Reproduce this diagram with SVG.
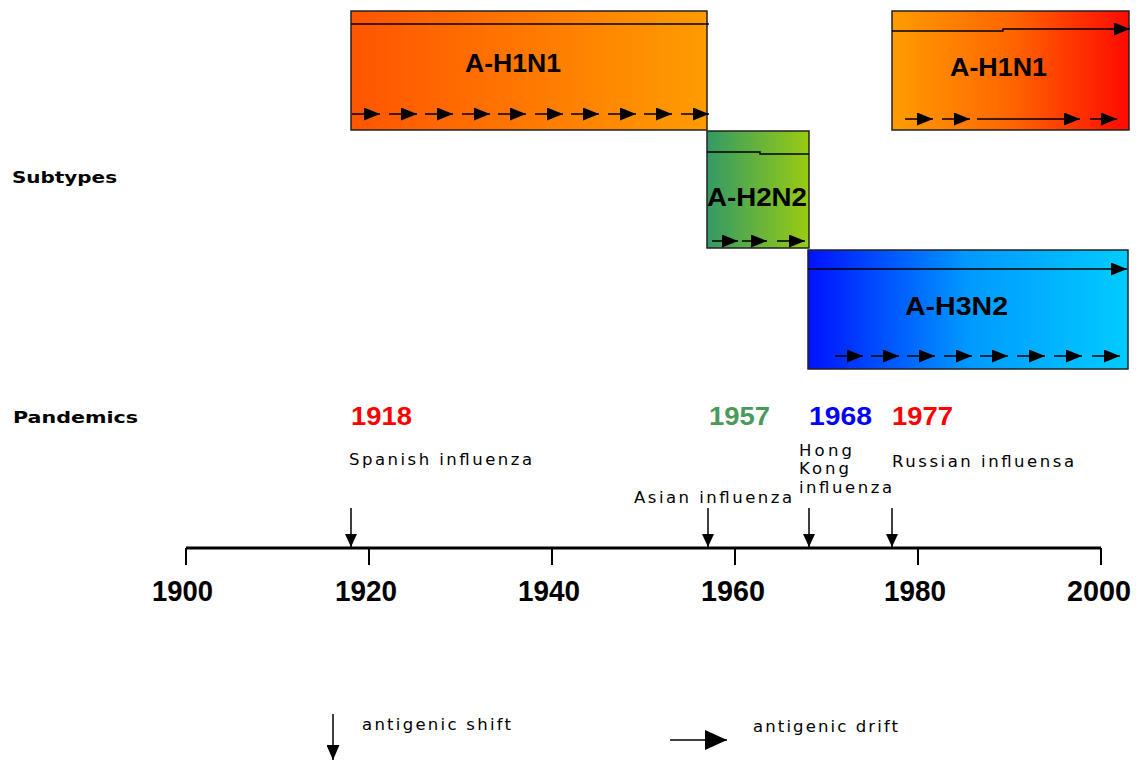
<svg xmlns="http://www.w3.org/2000/svg" width="1141" height="763" viewBox="0 0 1141 763">
<style>
.box{stroke:#222;stroke-width:1.5}
.ln{stroke:#000;stroke-width:1.5;fill:none}
.dr{stroke:#000;stroke-width:1.5;fill:none;marker-end:url(#head)}
.sub{font-family:"Liberation Sans",Arial,sans-serif;font-weight:bold;font-size:25px;fill:#000}
.hd{font-family:"DejaVu Sans",Verdana,sans-serif;font-weight:bold;font-size:16px;fill:#000}
.yr{font-family:"Liberation Sans",Arial,sans-serif;font-weight:bold;font-size:25px}
.ax{font-family:"Liberation Sans",Arial,sans-serif;font-weight:bold;font-size:29px;fill:#000}
.sm{font-family:"DejaVu Sans",Verdana,sans-serif;font-size:16.5px;fill:#000}
.axis{stroke:#000;stroke-width:3;fill:none}
.tick{stroke:#000;stroke-width:2}
.shift{stroke:#000;stroke-width:1.5;marker-end:url(#down)}
</style>
<defs>
<linearGradient id="g1" x1="0" x2="1" y1="0" y2="0"><stop offset="0" stop-color="#ff5500"/><stop offset="1" stop-color="#ff9c00"/></linearGradient>
<linearGradient id="g2" x1="0" x2="1" y1="0" y2="0"><stop offset="0" stop-color="#ff9c00"/><stop offset="0.5" stop-color="#ff6600"/><stop offset="1" stop-color="#ff0a00"/></linearGradient>
<linearGradient id="g3" x1="0" x2="1" y1="0" y2="0"><stop offset="0" stop-color="#339966"/><stop offset="1" stop-color="#99cc11"/></linearGradient>
<linearGradient id="g4" x1="0" x2="1" y1="0" y2="0"><stop offset="0" stop-color="#0011ff"/><stop offset="0.5" stop-color="#0099ff"/><stop offset="1" stop-color="#00ccff"/></linearGradient>
<marker id="head" markerUnits="userSpaceOnUse" viewBox="0 0 16 13" markerWidth="16" markerHeight="13" refX="16" refY="6.5" orient="auto"><path d="M0,0 L16,6.5 L0,13 Z" fill="#000"/></marker>
<marker id="down" markerUnits="userSpaceOnUse" viewBox="0 0 13 12" markerWidth="13" markerHeight="12" refX="13" refY="6" orient="auto"><path d="M0,0 L13,6 L0,12 Z" fill="#000"/></marker>
<marker id="bigdown" markerUnits="userSpaceOnUse" viewBox="0 0 15 13" markerWidth="15" markerHeight="13" refX="15" refY="6.5" orient="auto"><path d="M0,0 L15,6.5 L0,13 Z" fill="#000"/></marker>
<marker id="bigright" markerUnits="userSpaceOnUse" viewBox="0 0 22 20" markerWidth="22" markerHeight="20" refX="22" refY="10" orient="auto"><path d="M0,0 L22,10 L0,20 Z" fill="#000"/></marker>
</defs>
<rect width="1141" height="763" fill="#fff"/>

<text class="hd" x="12" y="183" textLength="105" lengthAdjust="spacingAndGlyphs">Subtypes</text>
<text class="hd" x="13" y="423" textLength="125" lengthAdjust="spacingAndGlyphs">Pandemics</text>

<g id="h1n1-early">
<rect class="box" x="351" y="11" width="356" height="119" fill="url(#g1)"/>
<line class="ln" x1="351" y1="24" x2="709" y2="24"/>
<text class="sub" x="465" y="72" textLength="96" lengthAdjust="spacingAndGlyphs">A-H1N1</text>
<g class="arrows">
<line class="dr" x1="352" y1="114" x2="380" y2="114"/>
<line class="dr" x1="389" y1="114" x2="417" y2="114"/>
<line class="dr" x1="425" y1="114" x2="453" y2="114"/>
<line class="dr" x1="462" y1="114" x2="490" y2="114"/>
<line class="dr" x1="498" y1="114" x2="526" y2="114"/>
<line class="dr" x1="535" y1="114" x2="563" y2="114"/>
<line class="dr" x1="571" y1="114" x2="599" y2="114"/>
<line class="dr" x1="608" y1="114" x2="636" y2="114"/>
<line class="dr" x1="644" y1="114" x2="672" y2="114"/>
<line class="dr" x1="681" y1="114" x2="709" y2="114"/>
</g>
</g>

<g id="h1n1-late">
<rect class="box" x="892" y="11" width="237" height="119" fill="url(#g2)"/>
<polyline class="ln" points="892,31 1003,31 1003,29 1116,29"/>
<line class="dr" x1="1110" y1="29" x2="1130" y2="29"/>
<text class="sub" x="950" y="76" textLength="97" lengthAdjust="spacingAndGlyphs">A-H1N1</text>
<line class="dr" x1="905" y1="119" x2="933" y2="119"/>
<line class="dr" x1="942" y1="119" x2="970" y2="119"/>
<line class="dr" x1="977" y1="119" x2="1080" y2="119"/>
<line class="dr" x1="1090" y1="119" x2="1117" y2="119"/>
</g>

<g id="h2n2">
<rect class="box" x="707" y="131" width="102" height="117" fill="url(#g3)"/>
<polyline class="ln" points="707,152 760,152 760,154 809,154"/>
<text class="sub" x="707" y="206" textLength="100" lengthAdjust="spacingAndGlyphs">A-H2N2</text>
<line class="dr" x1="712" y1="241" x2="738" y2="241"/>
<line class="dr" x1="742" y1="241" x2="767" y2="241"/>
<line class="dr" x1="777" y1="241" x2="805" y2="241"/>
</g>

<g id="h3n2">
<rect class="box" x="808" y="250" width="320" height="119" fill="url(#g4)"/>
<line class="dr" x1="808" y1="269" x2="1127" y2="269"/>
<text class="sub" x="905" y="315" textLength="103" lengthAdjust="spacingAndGlyphs">A-H3N2</text>
<line class="dr" x1="835" y1="356" x2="863" y2="356"/>
<line class="dr" x1="871" y1="356" x2="899" y2="356"/>
<line class="dr" x1="907" y1="356" x2="935" y2="356"/>
<line class="dr" x1="944" y1="356" x2="972" y2="356"/>
<line class="dr" x1="980" y1="356" x2="1008" y2="356"/>
<line class="dr" x1="1017" y1="356" x2="1045" y2="356"/>
<line class="dr" x1="1054" y1="356" x2="1082" y2="356"/>
<line class="dr" x1="1092" y1="356" x2="1120" y2="356"/>
</g>

<g id="pandemic-1918">
<text class="yr" x="351" y="425" fill="#ff0000" textLength="61" lengthAdjust="spacingAndGlyphs">1918</text>
<text class="sm" x="349" y="465" textLength="183" lengthAdjust="spacing">Spanish influenza</text>
</g>
<g id="pandemic-1957">
<text class="yr" x="709" y="425" fill="#4a9a5a" textLength="61" lengthAdjust="spacingAndGlyphs">1957</text>
<text class="sm" x="634" y="503" textLength="158" lengthAdjust="spacing">Asian influenza</text>
</g>
<g id="pandemic-1968">
<text class="yr" x="809" y="425" fill="#0000ff" textLength="63" lengthAdjust="spacingAndGlyphs">1968</text>
<text class="sm" x="799" y="456" textLength="53" lengthAdjust="spacing">Hong</text>
<text class="sm" x="799" y="474" textLength="50" lengthAdjust="spacing">Kong</text>
<text class="sm" x="799" y="493" textLength="93" lengthAdjust="spacing">influenza</text>
</g>
<g id="pandemic-1977">
<text class="yr" x="892" y="425" fill="#ff0000" textLength="61" lengthAdjust="spacingAndGlyphs">1977</text>
<text class="sm" x="892" y="467" textLength="182" lengthAdjust="spacing">Russian influensa</text>
</g>

<g id="timeline">
<line class="axis" x1="186" y1="548" x2="1101" y2="548"/>
<line class="tick" x1="186" y1="548" x2="186" y2="565"/>
<line class="tick" x1="369" y1="548" x2="369" y2="565"/>
<line class="tick" x1="552" y1="548" x2="552" y2="565"/>
<line class="tick" x1="735" y1="548" x2="735" y2="565"/>
<line class="tick" x1="918" y1="548" x2="918" y2="565"/>
<line class="tick" x1="1101" y1="548" x2="1101" y2="565"/>
<text class="ax" x="152" y="601" textLength="61" lengthAdjust="spacingAndGlyphs">1900</text>
<text class="ax" x="335" y="601" textLength="62" lengthAdjust="spacingAndGlyphs">1920</text>
<text class="ax" x="518" y="601" textLength="62" lengthAdjust="spacingAndGlyphs">1940</text>
<text class="ax" x="701" y="601" textLength="64" lengthAdjust="spacingAndGlyphs">1960</text>
<text class="ax" x="884" y="601" textLength="62" lengthAdjust="spacingAndGlyphs">1980</text>
<text class="ax" x="1067" y="601" textLength="64" lengthAdjust="spacingAndGlyphs">2000</text>
</g>

<g id="connectors">
<line class="shift" x1="351" y1="508" x2="351" y2="547"/>
<line class="shift" x1="708" y1="508" x2="708" y2="547"/>
<line class="shift" x1="809" y1="508" x2="809" y2="547"/>
<line class="shift" x1="892" y1="508" x2="892" y2="547"/>
</g>

<g id="legend">
<line x1="333" y1="714" x2="333" y2="760" stroke="#000" stroke-width="1.5" marker-end="url(#bigdown)"/>
<text class="sm" x="362" y="730" textLength="149" lengthAdjust="spacing">antigenic shift</text>
<line x1="670" y1="740" x2="727" y2="740" stroke="#000" stroke-width="1.5" marker-end="url(#bigright)"/>
<text class="sm" x="753" y="732" textLength="145" lengthAdjust="spacing">antigenic drift</text>
</g>
</svg>
